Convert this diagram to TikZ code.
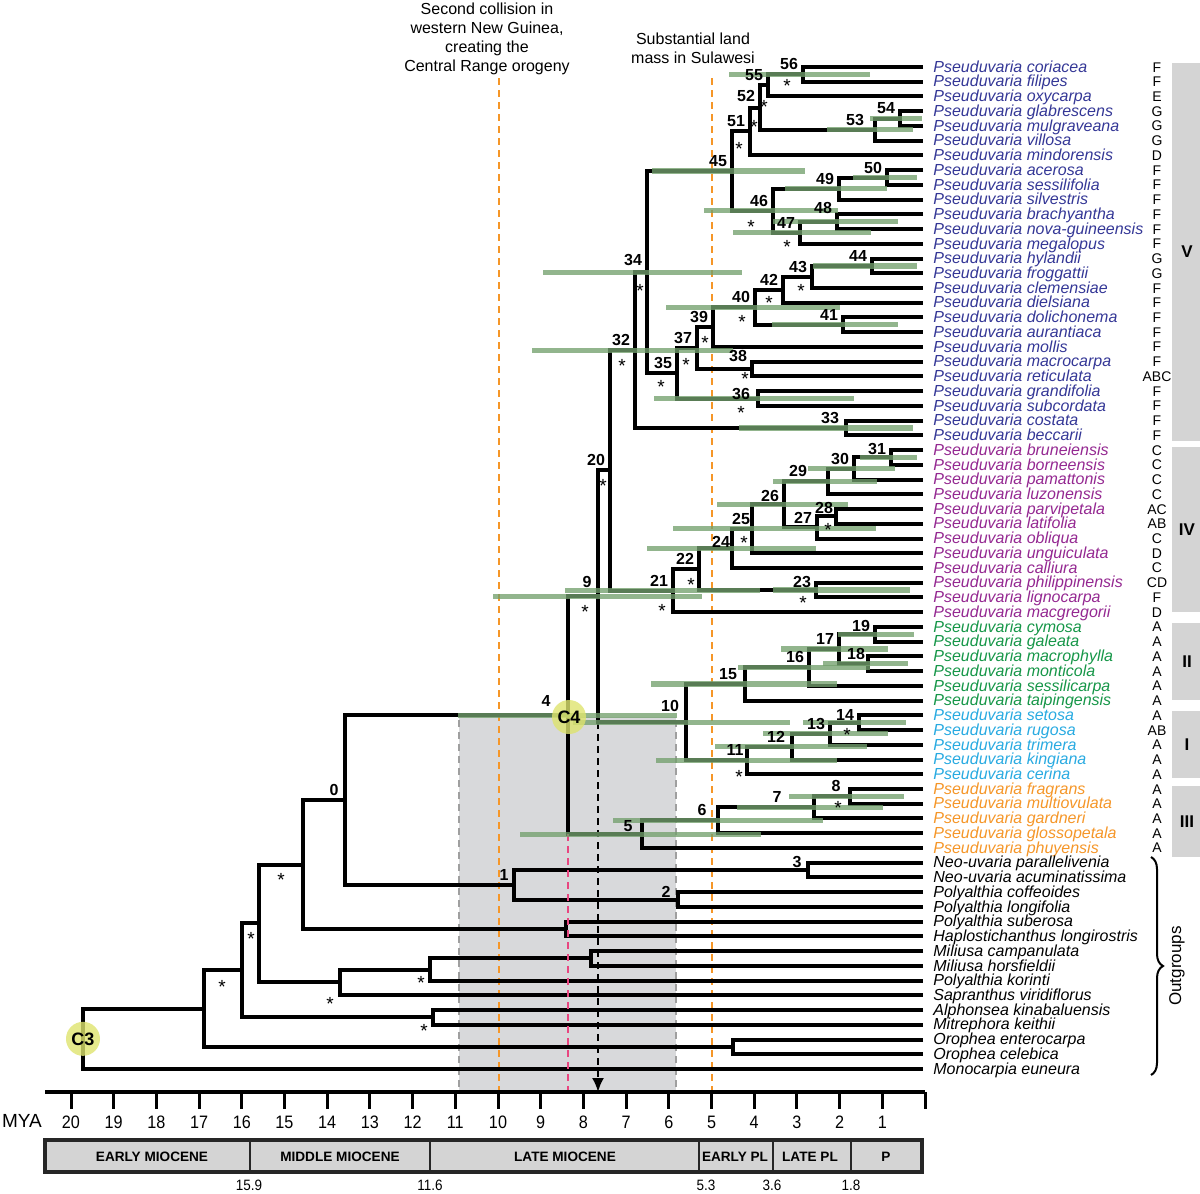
\documentclass[tikz,border=0pt]{standalone}
\usepackage{fontspec}
\setmainfont{Liberation Sans}
\newfontfamily\narrowsf[FakeStretch=0.9]{Liberation Sans}
\usepackage{tikz}
\usetikzlibrary{calc,arrows.meta,decorations.pathreplacing}

\definecolor{cladeV}{RGB}{52,55,150}
\definecolor{cladeIV}{RGB}{148,40,145}
\definecolor{cladeII}{RGB}{22,150,72}
\definecolor{cladeI}{RGB}{40,170,225}
\definecolor{cladeIII}{RGB}{245,150,40}
\definecolor{outgrp}{RGB}{0,0,0}
\definecolor{hpdgreen}{RGB}{115,160,109}
\definecolor{eventorange}{RGB}{245,150,40}
\definecolor{pinkline}{RGB}{232,70,128}
\definecolor{shadegray}{RGB}{216,217,219}
\definecolor{boxgray}{RGB}{212,212,212}
\definecolor{calibyellow}{RGB}{222,228,110}

% one clade: name, x of the node (px), upper child, lower child
\newcommand\mkclade[4]{%
  \coordinate (mid) at ($(#3)!.5!(#4)$);
  \coordinate (#1) at (#2,0 |- mid);
  \draw[branch] (#3) -| (#1) |- (#4);
}

\tikzset{
  branch/.style={line width=2pt, line join=miter},
  hpd/.style={line width=2.6pt, draw=hpdgreen, opacity=0.78},
  taxon/.style={anchor=base west, inner sep=0pt, xshift=5pt, yshift=-2.6pt,
    font=\fontsize{8}{9}\selectfont\itshape},
  region/.style={anchor=base, inner sep=0pt, yshift=-2.5pt,
    font=\fontsize{7}{8}\selectfont},
  num/.style={inner sep=0pt, xshift=-7pt, yshift=5pt,
    font=\fontsize{8}{8}\selectfont\bfseries},
  star/.style={inner sep=0pt, font=\fontsize{9.5}{10}\selectfont},
  eventline/.style={eventorange, line width=1.2pt, dash pattern=on 3.5pt off 2.5pt},
  rangeline/.style={gray!75, line width=1.1pt, dash pattern=on 3.5pt off 2.5pt},
  calib/.style={circle, fill=calibyellow, fill opacity=0.8, text opacity=1,
    minimum size=17pt, inner sep=0pt, font=\fontsize{9}{9}\selectfont\bfseries},
  epoch/.style={font=\fontsize{6.8}{7}\selectfont\bfseries},
}

\begin{document}
\begin{tikzpicture}[x=0.5pt, y=-0.5pt]
  \useasboundingbox (0,0) rectangle (1200,1194);

  % shaded age range of node 4
  \fill[shadegray] (459,717) rectangle (676,1093);
  \draw[rangeline] (459,720) -- (459,1093);
  \draw[rangeline] (676,720) -- (676,1093);

  % geological events
  \node[align=center, font=\fontsize{8}{9.5}\selectfont] (evt1) at (487,39)
    {Second collision in\\western New Guinea,\\creating the\\Central Range orogeny};
  \node[align=center, font=\fontsize{8}{9.5}\selectfont] (evt2) at (693,48)
    {Substantial land\\mass in Sulawesi};
  \draw[eventline] (499,78) -- (499,1093);
  \draw[eventline] (712,78) -- (712,1093);

  % tips
  \foreach \i/\sp/\reg/\col in {
    1/coriacea/F/cladeV, 2/filipes/F/cladeV, 3/oxycarpa/E/cladeV,
    4/glabrescens/G/cladeV, 5/mulgraveana/G/cladeV, 6/villosa/G/cladeV,
    7/mindorensis/D/cladeV, 8/acerosa/F/cladeV, 9/sessilifolia/F/cladeV,
    10/silvestris/F/cladeV, 11/brachyantha/F/cladeV, 12/nova-guineensis/F/cladeV,
    13/megalopus/F/cladeV, 14/hylandii/G/cladeV, 15/froggattii/G/cladeV,
    16/clemensiae/F/cladeV, 17/dielsiana/F/cladeV, 18/dolichonema/F/cladeV,
    19/aurantiaca/F/cladeV, 20/mollis/F/cladeV, 21/macrocarpa/F/cladeV,
    22/reticulata/ABC/cladeV, 23/grandifolia/F/cladeV, 24/subcordata/F/cladeV,
    25/costata/F/cladeV, 26/beccarii/F/cladeV,
    27/bruneiensis/C/cladeIV, 28/borneensis/C/cladeIV, 29/pamattonis/C/cladeIV,
    30/luzonensis/C/cladeIV, 31/parvipetala/AC/cladeIV, 32/latifolia/AB/cladeIV,
    33/obliqua/C/cladeIV, 34/unguiculata/D/cladeIV, 35/calliura/C/cladeIV,
    36/philippinensis/CD/cladeIV, 37/lignocarpa/F/cladeIV, 38/macgregorii/D/cladeIV,
    39/cymosa/A/cladeII, 40/galeata/A/cladeII, 41/macrophylla/A/cladeII,
    42/monticola/A/cladeII, 43/sessilicarpa/A/cladeII, 44/taipingensis/A/cladeII,
    45/setosa/A/cladeI, 46/rugosa/AB/cladeI, 47/trimera/A/cladeI,
    48/kingiana/A/cladeI, 49/cerina/A/cladeI,
    50/fragrans/A/cladeIII, 51/multiovulata/A/cladeIII, 52/gardneri/A/cladeIII,
    53/glossopetala/A/cladeIII, 54/phuyensis/A/cladeIII}{
    \coordinate (t\i) at (923,{67+(\i-1)*14.735});
    \node[taxon, text=\col] (l\i) at (t\i) {Pseuduvaria \sp};
    \node[region] (r\i) at (1157,0 |- t\i) {\reg};
  }
  \foreach \i/\sp in {
    55/Neo-uvaria parallelivenia, 56/Neo-uvaria acuminatissima,
    57/Polyalthia coffeoides, 58/Polyalthia longifolia, 59/Polyalthia suberosa,
    60/Haplostichanthus longirostris, 61/Miliusa campanulata,
    62/Miliusa horsfieldii, 63/Polyalthia korinti, 64/Sapranthus viridiflorus,
    65/Alphonsea kinabaluensis, 66/Mitrephora keithii, 67/Orophea enterocarpa,
    68/Orophea celebica, 69/Monocarpia euneura}{
    \coordinate (t\i) at (923,{67+(\i-1)*14.735});
    \node[taxon, text=outgrp] (l\i) at (t\i) {\sp};
  }

  % clade V
  \mkclade{n56}{803}{t1}{t2}
  \mkclade{n55}{768}{n56}{t3}
  \mkclade{n54}{900}{t4}{t5}
  \mkclade{n53}{875}{n54}{t6}
  \mkclade{n52}{760}{n55}{n53}
  \mkclade{n51}{750}{n52}{t7}
  \mkclade{n50}{887}{t8}{t9}
  \mkclade{n49}{839}{n50}{t10}
  \mkclade{n48}{837}{t11}{t12}
  \mkclade{n47}{800}{n48}{t13}
  \mkclade{n46}{773}{n49}{n47}
  \mkclade{n45}{732}{n51}{n46}
  \mkclade{n44}{872}{t14}{t15}
  \mkclade{n43}{812}{n44}{t16}
  \mkclade{n42}{783}{n43}{t17}
  \mkclade{n41}{843}{t18}{t19}
  \mkclade{n40}{755}{n42}{n41}
  \mkclade{n39}{713}{n40}{t20}
  \mkclade{n38}{752}{t21}{t22}
  \mkclade{n37}{697}{n39}{n38}
  \mkclade{n36}{758}{t23}{t24}
  \mkclade{n35}{677}{n37}{n36}
  \mkclade{n34}{647}{n45}{n35}
  \mkclade{n33}{846}{t25}{t26}
  \mkclade{n32}{635}{n34}{n33}
  % clade IV
  \mkclade{n31}{891}{t27}{t28}
  \mkclade{n30}{854}{n31}{t29}
  \mkclade{n29}{828}{n30}{t30}
  \mkclade{n28}{836}{t31}{t32}
  \mkclade{n27}{817}{n28}{t33}
  \mkclade{n26}{784}{n29}{n27}
  \mkclade{n25}{752}{n26}{t34}
  \mkclade{n24}{732}{n25}{t35}
  \mkclade{n23}{816}{t36}{t37}
  \mkclade{n22}{699}{n24}{n23}
  \mkclade{n21}{673}{n22}{t38}
  \mkclade{n20}{610}{n32}{n21}
  % clades II and I
  \mkclade{n19}{875}{t39}{t40}
  \mkclade{n18}{868}{t41}{t42}
  \mkclade{n17}{839}{n19}{n18}
  \mkclade{n16}{809}{n17}{t43}
  \mkclade{n15}{745}{n16}{t44}
  \mkclade{n14}{859}{t45}{t46}
  \mkclade{n13}{830}{n14}{t47}
  \mkclade{n12}{792}{n13}{t48}
  \mkclade{n11}{747}{n12}{t49}
  \mkclade{n10}{686}{n15}{n11}
  \mkclade{n9}{598}{n20}{n10}
  % clade III
  \mkclade{n8}{850}{t50}{t51}
  \mkclade{n7}{814}{n8}{t52}
  \mkclade{n6}{718}{n7}{t53}
  \mkclade{n5}{642}{n6}{t54}
  \mkclade{n4}{568}{n9}{n5}
  % outgroups
  \mkclade{n3}{808}{t55}{t56}
  \mkclade{n2}{678}{t57}{t58}
  \mkclade{n1}{514}{n3}{n2}
  \mkclade{n0}{345}{n4}{n1}
  \mkclade{oa}{566}{t59}{t60}
  \mkclade{ob}{591}{t61}{t62}
  \mkclade{oc}{430}{ob}{t63}
  \mkclade{od}{340}{oc}{t64}
  \mkclade{oe}{433}{t65}{t66}
  \mkclade{of}{733}{t67}{t68}
  \mkclade{og}{303}{n0}{oa}
  \mkclade{oh}{259}{og}{od}
  \mkclade{oi}{242}{oh}{oe}
  \mkclade{oj}{204}{oi}{of}
  \mkclade{root}{83}{oj}{t69}

  % lines down to the time axis
  \draw[pinkline, line width=1.2pt, dash pattern=on 3.5pt off 2.5pt]
    (n4 |- n5) -- (568,1093);
  \draw[line width=1.1pt, dash pattern=on 3.5pt off 2.5pt,
    -{Latex[length=7pt,width=6pt]}] (n9 |- n10) -- (598,1092);

  % 95% HPD bars
  \foreach \nd/\a/\b in {n56/729/870, n54/870/922, n53/827/913, n45/652/805,
    n50/853/917, n49/785/887, n46/704/838, n48/773/898, n47/733/871,
    n44/813/917, n34/543/742, n40/666/840, n41/772/898, n32/532/733,
    n36/654/854, n33/739/913, n31/860/917, n30/808/895, n29/773/877,
    n26/717/848, n25/673/876, n24/647/816, n21/565/760, n23/773/910,
    n9/493/702, n19/838/914, n17/781/888, n18/823/908, n16/738/870,
    n15/651/837, n4/458/677, n10/573/790, n14/803/906, n13/763/888,
    n12/715/867, n11/656/837, n8/789/904, n7/737/883, n6/613/823,
    n5/520/761}
    \draw[hpd] (\a,0 |- \nd) -- (\b,0 |- \nd);

  % node numbers
  \foreach \k/\dx/\dy in {56/0/0, 55/0/0, 54/0/0, 53/-3/0, 52/0/1, 51/0/0,
    50/0/0, 49/0/0, 48/0/2, 47/0/0, 46/0/0, 45/0/0, 44/0/0, 43/0/0, 42/0/0,
    41/0/0, 40/0/0, 39/0/0, 38/0/1.5, 37/0/0, 36/-1.5/-2.5, 35/0/0, 34/0/1,
    33/-1/0, 32/0/0, 31/0/-1, 30/0/0, 29/-8/0, 28/1/-1, 27/0/0, 26/0/-1,
    25/1.5/0, 24/1.5/-1.5, 23/0/-1, 22/0/0, 21/0/0, 20/0/0, 19/0/-1,
    18/1/0, 17/0/0, 16/0/0, 15/-1.5/0, 14/0/-1, 13/0/0, 12/-1/0, 11/1/0,
    10/-1/3, 9/1.5/2, 8/0/0, 7/-11.5/0, 6/-1/0, 5/0/-1, 4/-4/2,
    3/1.5/-1, 2/1/-1, 1/2/0, 0/1.5/0}
    \node[num, xshift=\dx pt, yshift=\dy pt] (lab\k) at (n\k) {\k};

  % well supported nodes
  \foreach \x/\y [count=\k] in {787/82, 764/103, 754/123, 739/145, 751/223,
    787/243, 640/287, 801/287, 769/299, 742/318, 705/339, 622/362, 686/361,
    661/383, 745/375, 741/409, 828/526, 744/539, 691/581, 603/482, 585/608,
    662/607, 803/599, 847/731, 739/773, 838/804, 281/876, 251/935, 222/983,
    330/1000, 421/979, 424/1027}
    \node[star] (s\k) at (\x,\y+4) {*};

  % calibration points
  \node[calib] (C4) at (569,717) {C4};
  \node[calib] (C3) at (root) {C3};

  % clade boxes
  \foreach \top/\bot/\nm/\tx in {63/441/V/V, 447/612/IV/IV, 623/700/II/II,
    711/778/I/I, 786/857/III/III}{
    \fill[boxgray] (1172,\top) rectangle (1200,\bot);
    \node[font=\fontsize{8.5}{9}\selectfont\bfseries] (box\nm) at (1187,{(\top+\bot)/2}) {\tx};
  }
  \draw[line width=1pt, decorate, decoration={brace, amplitude=6pt}]
    (1151,857) -- (1151,1075);
  \node[rotate=90, font=\fontsize{8.5}{9}\selectfont] (outg) at (1177,966) {Outgroups};

  % time axis
  \draw[line width=1.8pt] (45,1092) -- (925,1092);
  \foreach \m in {0,...,20}
    \draw[line width=1.5pt] ({925-42.7*\m},1092) -- ({925-42.7*\m},1109);
  \foreach \m in {1,...,20}
    \node[font=\narrowsf\fontsize{9}{9}\selectfont] (tick\m) at ({925-42.7*\m},1122) {\m};
  \node[font=\fontsize{9.5}{9}\selectfont] (mya) at (22,1121) {MYA};

  % epochs
  \draw[line width=2.2pt, draw=black!85, fill=boxgray] (45,1140) rectangle (922,1172);
  \foreach \d in {250,430,699,773,851}
    \draw[line width=1pt, black!85] (\d,1140) -- (\d,1172);
  \node[epoch] (ep1) at (152,1157) {EARLY MIOCENE};
  \node[epoch] (ep2) at (340,1157) {MIDDLE MIOCENE};
  \node[epoch] (ep3) at (565,1157) {LATE MIOCENE};
  \node[epoch] (ep4) at (735,1157) {EARLY PL};
  \node[epoch] (ep5) at (810,1157) {LATE PL};
  \node[epoch] (ep6) at (886,1157) {P};
  \foreach \d/\t in {249/15.9, 430/11.6, 706/5.3, 772/3.6, 851/1.8}
    \node[font=\narrowsf\fontsize{7.5}{8}\selectfont] (bd\t) at (\d,1185) {\t};
\end{tikzpicture}
\end{document}
